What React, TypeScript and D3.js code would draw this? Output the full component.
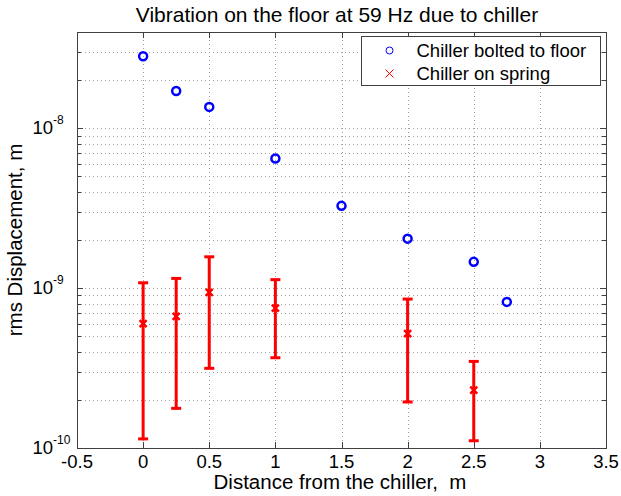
import { useEffect, useRef } from 'react'
import * as d3 from 'd3'

// chiller bolted to the floor
const xBolted = [0, 0.25, 0.5, 1, 1.5, 2, 2.5, 2.75]
const yBolted = [2.82e-8, 1.71e-8, 1.36e-8, 6.47e-9, 3.27e-9, 2.04e-9, 1.46e-9, 8.2e-10]

// chiller on spring, mean with min / max bars
const xSpring = [0, 0.25, 0.5, 1, 2, 2.5]
const ySpring = [6.0e-10, 6.65e-10, 9.4e-10, 7.5e-10, 5.2e-10, 2.3e-10]
const springHigh = [1.08e-9, 1.15e-9, 1.57e-9, 1.13e-9, 8.54e-10, 3.48e-10]
const springLow = [1.14e-10, 1.77e-10, 3.15e-10, 3.67e-10, 1.94e-10, 1.11e-10]

const xTicks = [-0.5, 0, 0.5, 1, 1.5, 2, 2.5, 3, 3.5]
const yDecades = [1e-10, 1e-9, 1e-8]
const yExps = ['-10', '-9', '-8']

const titleText = 'Vibration on the floor at 59 Hz due to chiller'
const xLabel = 'Distance from the chiller,  m'
const yLabel = 'rms Displacement, m'
const legendLabels = ['Chiller bolted to floor', 'Chiller on spring']

export default function App() {
  const svgRef = useRef<SVGSVGElement>(null)

  useEffect(() => {
    document.body.style.margin = '0'
    if (!svgRef.current) return
    const width = 621
    const height = 496
    const margin = { top: 32, right: 15, bottom: 48, left: 77 }
    const innerW = width - margin.left - margin.right
    const innerH = height - margin.top - margin.bottom
    const font = 'Liberation Sans, Arial, Helvetica, sans-serif'
    const axisColor = '#404040'

    const svg = d3.select(svgRef.current)
    svg.selectAll('*').remove()
    svg.attr('width', width).attr('height', height).style('font-family', font)

    svg.append('rect').attr('width', width).attr('height', height).attr('fill', '#fff')

    const g = svg.append('g').attr('transform', `translate(${margin.left},${margin.top})`)

    const x = d3.scaleLinear().domain([-0.5, 3.5]).range([0, innerW])
    const y = d3.scaleLog().domain([1e-10, 4e-8]).range([innerH, 0])

    // minor values 2..9 per decade inside the range
    const minor: number[] = []
    yDecades.forEach(d => {
      for (let k = 2; k <= 9; k++) {
        const v = d * k
        if (v < 4e-8) minor.push(v)
      }
    })
    const yAll = [...yDecades, ...minor].filter(v => v > 1e-10)

    // Grid
    const grid = g.append('g').attr('stroke', '#a0a0a0').attr('stroke-width', 1).attr('stroke-dasharray', '1 3')
    grid.selectAll('line.h')
      .data(yAll)
      .enter().append('line')
      .attr('x1', 0).attr('x2', innerW)
      .attr('y1', d => Math.round(y(d)) + 0.5).attr('y2', d => Math.round(y(d)) + 0.5)
    grid.selectAll('line.v')
      .data(xTicks.slice(1, -1))
      .enter().append('line')
      .attr('y1', 0).attr('y2', innerH)
      .attr('x1', d => Math.round(x(d)) + 0.5).attr('x2', d => Math.round(x(d)) + 0.5)

    // Box
    g.append('rect')
      .attr('x', 0.5).attr('y', 0.5)
      .attr('width', innerW).attr('height', innerH)
      .attr('fill', 'none').attr('stroke', axisColor)

    // Ticks (inside, both sides)
    const ticks = g.append('g').attr('stroke', axisColor).attr('stroke-width', 1)
    xTicks.slice(1, -1).forEach(t => {
      const px = Math.round(x(t)) + 0.5
      ticks.append('line').attr('x1', px).attr('x2', px).attr('y1', innerH).attr('y2', innerH - 6)
      ticks.append('line').attr('x1', px).attr('x2', px).attr('y1', 0).attr('y2', 6)
    })
    yAll.forEach(t => {
      const py = Math.round(y(t)) + 0.5
      const len = yDecades.includes(t) ? 6 : 4
      ticks.append('line').attr('x1', 0).attr('x2', len).attr('y1', py).attr('y2', py)
      ticks.append('line').attr('x1', innerW).attr('x2', innerW - len).attr('y1', py).attr('y2', py)
    })

    // Tick labels
    g.append('g')
      .selectAll('text')
      .data(xTicks)
      .enter().append('text')
      .attr('x', d => x(d))
      .attr('y', innerH + 20)
      .attr('text-anchor', 'middle')
      .attr('font-size', 18.5)
      .attr('fill', '#000')
      .text(d => String(d))

    const yl = g.append('g')
    yDecades.forEach((d, i) => {
      yl.append('text')
        .attr('x', -24)
        .attr('y', y(d) + 6)
        .attr('text-anchor', 'end')
        .attr('font-size', 18.5)
        .attr('fill', '#000')
        .text('10')
      yl.append('text')
        .attr('x', -24)
        .attr('y', y(d) - 4)
        .attr('font-size', 12)
        .attr('fill', '#000')
        .text(yExps[i])
    })

    // Error bars
    const cap = 5
    const bars = g.append('g').attr('stroke', '#ff0000').attr('stroke-width', 3)
    xSpring.forEach((xv, i) => {
      const px = x(xv)
      bars.append('line').attr('x1', px).attr('x2', px).attr('y1', y(springLow[i])).attr('y2', y(springHigh[i]))
      bars.append('line').attr('x1', px - cap).attr('x2', px + cap).attr('y1', y(springLow[i])).attr('y2', y(springLow[i]))
      bars.append('line').attr('x1', px - cap).attr('x2', px + cap).attr('y1', y(springHigh[i])).attr('y2', y(springHigh[i]))
    })

    // x markers
    const xm = 3.5
    const marks = g.append('g').attr('stroke', '#ff0000').attr('stroke-width', 2.5)
    xSpring.forEach((xv, i) => {
      const px = x(xv)
      const py = y(ySpring[i])
      marks.append('path').attr('d', `M${px - xm},${py - xm}L${px + xm},${py + xm}M${px - xm},${py + xm}L${px + xm},${py - xm}`)
    })

    // circles
    g.append('g')
      .selectAll('circle')
      .data(xBolted)
      .enter().append('circle')
      .attr('cx', d => x(d))
      .attr('cy', (_, i) => y(yBolted[i]))
      .attr('r', 4)
      .attr('fill', 'none')
      .attr('stroke', '#0000ff')
      .attr('stroke-width', 2.5)

    // Legend
    const lg = svg.append('g').attr('transform', 'translate(361.5,36.5)')
    lg.append('rect').attr('width', 239).attr('height', 49).attr('fill', '#fff').attr('stroke', axisColor)
    lg.append('circle').attr('cx', 28).attr('cy', 14).attr('r', 3.5).attr('fill', 'none').attr('stroke', '#0000ff').attr('stroke-width', 1)
    const lx = 4
    lg.append('path')
      .attr('d', `M${28 - lx},${37 - lx}L${28 + lx},${37 + lx}M${28 - lx},${37 + lx}L${28 + lx},${37 - lx}`)
      .attr('stroke', '#ff0000').attr('stroke-width', 1)
    legendLabels.forEach((label, i) => {
      lg.append('text')
        .attr('x', 55)
        .attr('y', 20.5 + i * 23)
        .attr('font-size', 18.5)
        .attr('fill', '#000')
        .text(label)
    })

    // Title and axis labels
    svg.append('text')
      .attr('x', 337)
      .attr('y', 22)
      .attr('text-anchor', 'middle')
      .attr('font-size', 21)
      .attr('fill', '#000')
      .text(titleText)

    svg.append('text')
      .attr('x', 340)
      .attr('y', 489)
      .attr('text-anchor', 'middle')
      .attr('font-size', 20.5)
      .attr('fill', '#000')
      .attr('xml:space', 'preserve')
      .style('white-space', 'pre')
      .text(xLabel)

    svg.append('text')
      .attr('transform', `translate(22,${margin.top + innerH / 2}) rotate(-90)`)
      .attr('text-anchor', 'middle')
      .attr('font-size', 20.5)
      .attr('fill', '#000')
      .text(yLabel)
  }, [])

  return <svg ref={svgRef} style={{ display: 'block' }} />
}
